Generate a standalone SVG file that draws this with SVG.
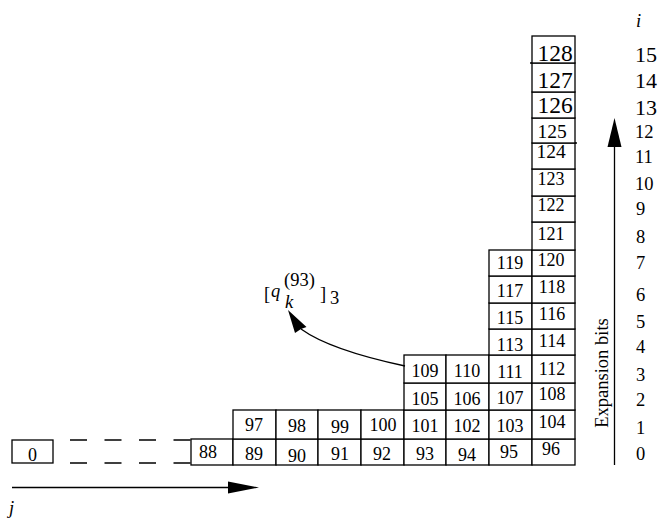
<svg xmlns="http://www.w3.org/2000/svg" width="659" height="519" viewBox="0 0 659 519">
<defs>
<style>
text{font-family:'Liberation Serif','DejaVu Serif','Times New Roman',serif;fill:#000}
.c{fill:#fff;stroke:#000;stroke-width:1.3}
.t{font-size:18px;text-anchor:middle}
.b{font-size:23.5px}
.m{font-size:19.5px}
.r{font-size:18.5px}
.rb{font-size:22px}
.it{font-style:italic}
.ln{fill:none;stroke:#000;stroke-width:1.3}
</style>
</defs>
<rect width="659" height="519" fill="#fff"/>
<g id="grid">
<rect class="c" x="12" y="440" width="41" height="23"/>
<rect class="c" x="191" y="439" width="42" height="26"/>
<rect class="c" x="233" y="439" width="43" height="26"/>
<rect class="c" x="276" y="439" width="42" height="26"/>
<rect class="c" x="318" y="439" width="43" height="26"/>
<rect class="c" x="361" y="439" width="43" height="26"/>
<rect class="c" x="404" y="439" width="42" height="26"/>
<rect class="c" x="446" y="439" width="43" height="26"/>
<rect class="c" x="489" y="439" width="43" height="26"/>
<rect class="c" x="532" y="439" width="43" height="26"/>
<rect class="c" x="233" y="410" width="43" height="29"/>
<rect class="c" x="276" y="410" width="42" height="29"/>
<rect class="c" x="318" y="410" width="43" height="29"/>
<rect class="c" x="361" y="410" width="43" height="29"/>
<rect class="c" x="404" y="410" width="42" height="29"/>
<rect class="c" x="446" y="410" width="43" height="29"/>
<rect class="c" x="489" y="410" width="43" height="29"/>
<rect class="c" x="532" y="410" width="43" height="29"/>
<rect class="c" x="404" y="383" width="42" height="27"/>
<rect class="c" x="446" y="383" width="43" height="27"/>
<rect class="c" x="489" y="383" width="43" height="27"/>
<rect class="c" x="532" y="383" width="43" height="27"/>
<rect class="c" x="404" y="355" width="42" height="28"/>
<rect class="c" x="446" y="355" width="43" height="28"/>
<rect class="c" x="489" y="355" width="43" height="28"/>
<rect class="c" x="532" y="355" width="43" height="28"/>
<rect class="c" x="489" y="329" width="43" height="26"/>
<rect class="c" x="532" y="329" width="43" height="26"/>
<rect class="c" x="489" y="303" width="43" height="26"/>
<rect class="c" x="532" y="303" width="43" height="26"/>
<rect class="c" x="489" y="276" width="43" height="27"/>
<rect class="c" x="532" y="276" width="43" height="27"/>
<rect class="c" x="489" y="250" width="43" height="26"/>
<rect class="c" x="532" y="250" width="43" height="26"/>
<rect class="c" x="532" y="222" width="43" height="28"/>
<rect class="c" x="532" y="196" width="43" height="26"/>
<rect class="c" x="532" y="169" width="43" height="27"/>
<rect class="c" x="532" y="143" width="43" height="26"/>
<rect class="c" x="532" y="118" width="43" height="25"/>
<rect class="c" x="532" y="92" width="43" height="26"/>
<rect class="c" x="532" y="63" width="43" height="29"/>
<rect class="c" x="532" y="36" width="43" height="27"/>
<line class="ln" x1="530" y1="63" x2="532" y2="63"/>
<line class="ln" x1="575" y1="143" x2="577" y2="143"/>
</g>
<g id="labels">
<text class="t" x="32.5" y="461">0</text>
<text class="t" x="208" y="458">88</text>
<text class="t" x="254" y="460">89</text>
<text class="t" x="297" y="462">90</text>
<text class="t" x="340" y="460">91</text>
<text class="t" x="382" y="460">92</text>
<text class="t" x="425" y="460">93</text>
<text class="t" x="467" y="461">94</text>
<text class="t" x="509" y="458">95</text>
<text class="t" x="551" y="455">96</text>
<text class="t" x="254" y="431">97</text>
<text class="t" x="297" y="432">98</text>
<text class="t" x="340" y="433">99</text>
<text class="t" x="383" y="431">100</text>
<text class="t" x="425" y="432">101</text>
<text class="t" x="467" y="432">102</text>
<text class="t" x="510" y="432">103</text>
<text class="t" x="552" y="428">104</text>
<text class="t" x="425" y="405">105</text>
<text class="t" x="467" y="405">106</text>
<text class="t" x="510" y="404">107</text>
<text class="t" x="552" y="400">108</text>
<text class="t" x="425" y="377">109</text>
<text class="t" x="467" y="377">110</text>
<text class="t" x="510" y="378">111</text>
<text class="t" x="552" y="375">112</text>
<text class="t" x="510" y="351">113</text>
<text class="t" x="552" y="347">114</text>
<text class="t" x="510" y="324">115</text>
<text class="t" x="552" y="320">116</text>
<text class="t" x="510" y="297">117</text>
<text class="t" x="552" y="293">118</text>
<text class="t" x="510" y="269">119</text>
<text class="t" x="551" y="266">120</text>
<text class="t" x="551" y="240">121</text>
<text class="t" x="551" y="211">122</text>
<text class="t" x="551" y="185">123</text>
<text class="t m" x="551" y="158">124</text>
<text class="t m" x="552" y="138">125</text>
<text class="t b" x="555" y="113">126</text>
<text class="t b" x="555" y="88">127</text>
<text class="t b" x="555" y="61">128</text>
</g>
<g id="axis-i">
<text class="r it" x="636" y="27" font-size="20">i</text>
<text class="r rb" x="635" y="61.5">15</text>
<text class="r rb" x="635" y="88">14</text>
<text class="r rb" x="635" y="115">13</text>
<text class="r" x="635" y="138">12</text>
<text class="r" x="635" y="163">11</text>
<text class="r" x="635" y="190">10</text>
<text class="r" x="636" y="215">9</text>
<text class="r" x="636" y="243">8</text>
<text class="r" x="636" y="269">7</text>
<text class="r" x="636" y="301">6</text>
<text class="r" x="636" y="328">5</text>
<text class="r" x="636" y="353">4</text>
<text class="r" x="636" y="381">3</text>
<text class="r" x="636" y="406">2</text>
<text class="r" x="636" y="434">1</text>
<text class="r" x="636" y="460">0</text>
<text class="r" transform="translate(608,373) rotate(-90)" text-anchor="middle" font-size="19.5">Expansion bits</text>
</g>
<g id="connectors">
<line class="ln" x1="70" y1="440" x2="191" y2="440" stroke-dasharray="17 17.5"/>
<line class="ln" x1="70" y1="463" x2="191" y2="463" stroke-dasharray="17 17.5"/>
<line class="ln" x1="12" y1="487.5" x2="230" y2="487.5"/>
<polygon points="228,481.5 259,487.5 228,493.5" fill="#000"/>
<line class="ln" x1="614.5" y1="145" x2="614.5" y2="465"/>
<polygon points="614.5,118 607.5,147 621.5,147" fill="#000"/>
<path class="ln" d="M405,366 Q330,350 301,329"/>
<polygon points="288,310 306.5,327 301,329 295,333" fill="#000"/>
</g>
<g id="label-q">
<text class="r" x="264" y="300" font-size="21">[</text>
<text class="r it" x="271" y="297" font-size="22">q</text>
<text class="r" x="284" y="286" font-size="14">(93)</text>
<text class="r it" x="285" y="307.5" font-size="14.5">k</text>
<text class="r" x="320" y="300" font-size="21">]</text>
<text class="r" x="330" y="303.5" font-size="14">3</text>
<text class="r it" x="9" y="514" font-size="20">j</text>
</g>
</svg>
